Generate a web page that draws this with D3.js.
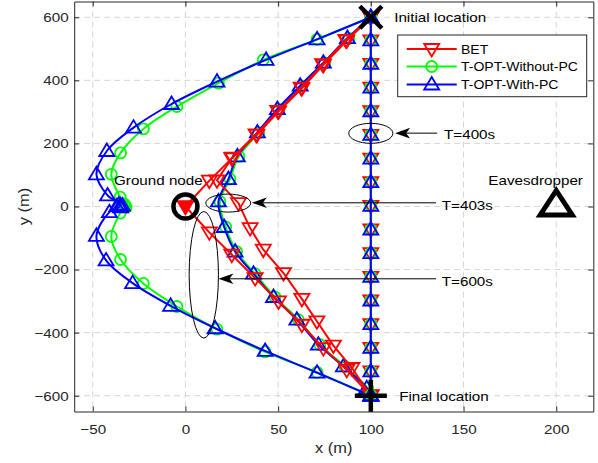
<!DOCTYPE html>
<html><head><meta charset="utf-8">
<script src="https://cdn.jsdelivr.net/npm/d3@7/dist/d3.min.js"></script>
<style>
body{margin:0;background:#fff;}
svg{display:block;font-family:"Liberation Sans",Arial,Helvetica,sans-serif;}
</style>
</head><body>
<svg id="chart" width="598" height="463"></svg>
<script>
// ---------- data ----------
const xTicks = [-50, 0, 50, 100, 150, 200];
const yTicks = [-600, -400, -200, 0, 200, 400, 600];
const seriesNames = ["BET", "T-OPT-Without-PC", "T-OPT-With-PC"];

const groundNode = [0, 0];
const eavesdropper = [200, 0];
const initialLoc = [100, 600];
const finalLoc = [100, -600];

// T = 400 s : straight line (all three schemes coincide)
const t400Y = [600, 527, 452, 377, 302, 227, 152, 77, 2, -73, -148, -223, -298, -373, -448, -523, -598];

// T = 403 s
const betT403 = [[100,600],[87,526],[74.4,449],[62.8,375],[50.2,301],[38.5,227],[25,153],[17,83],
  [28.6,10.8],[34.9,-68.5],[42,-137],[52.9,-211],[62.8,-293],[70.9,-364],[79.8,-441],[89.8,-512],[100,-600]];
const noPcT403 = [[100,600],[88.2,533],[75.2,455],[62.7,382],[50.4,308],[39.6,234],[28.8,159],[24,87],[18.6,16],
  [21.7,-65],[27.6,-143],[37.5,-213],[48.3,-287],[60.9,-359],[72.5,-438],[86,-507],[98.3,-576],[100,-600]];
const withPcT403 = [[100,600],[87.4,534],[74.4,456],[61.9,383],[49.6,309],[38.8,235],[28,159],[23.2,87],[17.8,16],
  [20.9,-65],[26.8,-143],[36.7,-213],[47.5,-287],[60.1,-359],[71.7,-438],[85.2,-507],[97.8,-576],[100,-600]];

// T = 600 s
const betT600 = [[100,600],[86.5,528],[74,451],[62.4,377],[49.8,303],[38.1,229],[25.4,155],[12.9,82],[0,0],
  [12.9,-82],[25,-153],[37.6,-227],[50.2,-301],[62.8,-375],[74.4,-449],[87,-518],[100,-600]];
const noPcT600 = [[100,600],[71,530],[42,465],[17.8,391],[-4.6,317],[-22.7,246],[-35,170],[-40,102],[-35.2,30],
  [-32.5,3],[-35.2,-21],[-40,-95],[-35,-168],[-22.7,-244],[-4.6,-317],[17,-389],[43,-461],[71,-526],[100,-600]];
const withPcT600 = [[100,600],[71,530],[43.5,465],[17,396],[-7.5,325],[-28,250],[-42.4,176],[-48,102],[-42,35],
  [-35,3],[-41,-18],[-48,-93],[-42.8,-171],[-28.5,-243],[-8,-315],[16,-386],[43,-458],[71,-527],[100,-600]];

// hovering points (many coincident markers)
const betHover = [[0,0]];
const noPcHover = [[-33,8],[-32,-2],[-34,4]];
const withPcHover = [[-36,6],[-35,-3],[-37,1],[-34,3]];

// annotation labels
const ann = [
  {label:"T=400s", ell:[100,232,11.9,31.7], arrow:[113.1,135.8,232.6], text:[139.5,213.6]},
  {label:"T=403s", ell:[23.1,10.8,12.1,28.5], arrow:[35.8,135.2,11.7], text:[138.3,-10.5]},
  {label:"T=600s", ell:[9.9,-216.5,7.9,200.6], arrow:[17.8,135.2,-229.2], text:[138.3,-251.3]}
];

// ---------- setup ----------
const W = 598, H = 463;
const x = d3.scaleLinear().domain([-60, 220]).range([74.2, 593.3]);
const y = d3.scaleLinear().domain([-650, 650]).range([411.5, 1.5]);
const SX = 1.17;
const colors = {BET:"#ff0000", NOPC:"#00ff00", PC:"#0000ff"};
const svg = d3.select("#chart");
svg.append("rect").attr("width", W).attr("height", H).attr("fill", "#fff");

function txt(g, str, px, py, size, anchor, fill) {
  return g.append("text")
    .attr("transform", `translate(${px},${py}) scale(${SX},1)`)
    .attr("font-size", size).attr("text-anchor", anchor || "start")
    .attr("fill", fill || "#000").text(str);
}

// grid
const grid = svg.append("g");
grid.selectAll(".gx").data(xTicks).join("line")
  .attr("x1", d => x(d)).attr("x2", d => x(d)).attr("y1", y(650)).attr("y2", y(-650))
  .attr("stroke", "#d6d6d6").attr("stroke-width", 1).attr("stroke-dasharray", "6,4");
grid.selectAll(".gy").data(yTicks).join("line")
  .attr("y1", d => y(d)).attr("y2", d => y(d)).attr("x1", x(-60)).attr("x2", x(220))
  .attr("stroke", "#d6d6d6").attr("stroke-width", 1).attr("stroke-dasharray", "6,4");

// axes
const axCol = "#262626";
function styleAxis(g) {
  g.select(".domain").attr("stroke", axCol);
  g.selectAll(".tick line").attr("stroke", axCol);
  g.selectAll("text").attr("fill", axCol).attr("font-size", 13)
    .attr("font-family", '"Liberation Sans",Arial,sans-serif');
}
const gB = svg.append("g").attr("transform", `translate(0,${y(-650)})`)
  .call(d3.axisBottom(x).tickValues(xTicks).tickSizeInner(-5).tickSizeOuter(0).tickPadding(13.5));
styleAxis(gB);
gB.selectAll("text").attr("transform", `scale(${SX},1)`);
const gL = svg.append("g").attr("transform", `translate(${x(-60)},0)`)
  .call(d3.axisLeft(y).tickValues(yTicks).tickSizeInner(-5).tickSizeOuter(0).tickPadding(5));
styleAxis(gL);
gL.selectAll("text").attr("transform", `scale(${SX},1)`).attr("x", -5.5 / SX).attr("dy", "0.34em");
const gT = svg.append("g").attr("transform", `translate(0,${y(650)})`)
  .call(d3.axisTop(x).tickValues(xTicks).tickSizeInner(-5).tickSizeOuter(0).tickFormat(""));
styleAxis(gT);
const gR = svg.append("g").attr("transform", `translate(${x(220)},0)`)
  .call(d3.axisRight(y).tickValues(yTicks).tickSizeInner(-5).tickSizeOuter(0).tickFormat(""));
styleAxis(gR);

txt(svg, "x (m)", (x(-60) + x(220)) / 2, 453, 14, "middle", axCol);
svg.append("text").attr("transform", `translate(29,${(y(-650)+y(650))/2}) rotate(-90) scale(${SX},1)`)
  .attr("text-anchor", "middle").attr("font-size", 14).attr("fill", axCol).text("y (m)");

// ---------- marks ----------
const plot = svg.append("g");
const markerPath = {
  down: "M-7.5,-5L7.5,-5L0,7.5Z",
  up: "M0,-7.5L-7.5,5L7.5,5Z"
};
function drawMarkers(g, pts, type, color, filled) {
  if (type === "circle") {
    g.selectAll(null).data(pts).join("circle")
      .attr("cx", d => x(d[0])).attr("cy", d => y(d[1])).attr("r", 5.5)
      .attr("fill", filled ? color : "none").attr("stroke", color).attr("stroke-width", 1.8);
  } else {
    g.selectAll(null).data(pts).join("path")
      .attr("transform", d => `translate(${x(d[0])},${y(d[1])})`)
      .attr("d", markerPath[type])
      .attr("fill", filled ? color : "none").attr("stroke", color).attr("stroke-width", 1.8)
      .attr("stroke-linejoin", "miter");
  }
}
function drawTraj(pts, type, color, smooth, hover, hoverFilled) {
  const g = plot.append("g");
  const line = d3.line().x(d => x(d[0])).y(d => y(d[1]))
    .curve(smooth ? d3.curveCatmullRom.alpha(0.5) : d3.curveLinear);
  g.append("path").attr("d", line(pts)).attr("fill", "none")
    .attr("stroke", color).attr("stroke-width", 2).attr("stroke-linejoin", "round");
  drawMarkers(g, pts, type, color, false);
  if (hover) drawMarkers(g, hover, type, color, hoverFilled);
}
const t400 = t400Y.map(v => [initialLoc[0], v]);

drawTraj(noPcT403, "circle", colors.NOPC, true);
drawTraj(withPcT403, "up", colors.PC, true);
drawTraj(betT403, "down", colors.BET, false);
drawTraj(betT600, "down", colors.BET, false, betHover, true);
drawTraj(noPcT600, "circle", colors.NOPC, true, noPcHover, false);
drawTraj(withPcT600, "up", colors.PC, true, withPcHover, false);
drawTraj(t400, "down", colors.BET, false);
drawTraj(t400, "circle", colors.NOPC, false);
drawTraj(t400, "up", colors.PC, false);

// special locations
const sp = svg.append("g");
sp.append("circle").attr("cx", x(groundNode[0])).attr("cy", y(groundNode[1])).attr("r", 12)
  .attr("fill", "none").attr("stroke", "#000").attr("stroke-width", 4.5);
sp.append("path").attr("transform", `translate(${x(eavesdropper[0])},${y(eavesdropper[1])})`)
  .attr("d", "M0,-16L-16,8.5L16,8.5Z").attr("fill", "none").attr("stroke", "#000")
  .attr("stroke-width", 5).attr("stroke-linejoin", "miter");
sp.append("path").attr("transform", `translate(${x(initialLoc[0])},${y(initialLoc[1])})`)
  .attr("d", "M-11,-11L11,11M-11,11L11,-11").attr("stroke", "#000").attr("stroke-width", 4.5);
sp.append("path").attr("transform", `translate(${x(finalLoc[0])},${y(finalLoc[1])})`)
  .attr("d", "M-16,0L16,0M0,-16L0,16").attr("stroke", "#000").attr("stroke-width", 4.5);

txt(sp, "Initial location", x(112.6), y(585.4), 13, "start");
txt(sp, "Final location", x(115.3), y(-616.8), 13, "start");
txt(sp, "Ground node", x(-38.5), y(68.8), 13, "start");
txt(sp, "Eavesdropper", x(163.4), y(68.8), 13, "start");

// annotations
const an = svg.append("g");
ann.forEach(a => {
  const [cx, cy, rx, ry] = a.ell;
  an.append("ellipse").attr("cx", x(cx)).attr("cy", y(cy))
    .attr("rx", x(cx + rx) - x(cx)).attr("ry", y(cy) - y(cy + ry))
    .attr("fill", "none").attr("stroke", "#000").attr("stroke-width", 1);
  const [tip, end, ay] = a.arrow;
  const tx = x(tip), ex = x(end), yy = y(ay);
  an.append("line").attr("x1", tx + 10).attr("x2", ex).attr("y1", yy).attr("y2", yy)
    .attr("stroke", "#000").attr("stroke-width", 1);
  an.append("path").attr("d", `M${tx},${yy}L${tx+15},${yy-5.3}L${tx+11},${yy}L${tx+15},${yy+5.3}Z`)
    .attr("fill", "#000");
  txt(an, a.label, x(a.text[0]), y(a.text[1]), 13, "start");
});

// legend
const lg = svg.append("g");
lg.append("rect").attr("x", 397.7).attr("y", 35).attr("width", 189).attr("height", 61.7)
  .attr("fill", "#fff").attr("stroke", axCol).attr("stroke-width", 1);
const legTypes = [["down", colors.BET], ["circle", colors.NOPC], ["up", colors.PC]];
const legY = [49, 66.5, 84.5];
seriesNames.forEach((name, i) => {
  const [type, col] = legTypes[i];
  const yy = legY[i];
  lg.append("line").attr("x1", 406.7).attr("x2", 456.7).attr("y1", yy).attr("y2", yy)
    .attr("stroke", col).attr("stroke-width", 2);
  if (type === "circle") {
    lg.append("circle").attr("cx", 431.7).attr("cy", yy).attr("r", 5.5)
      .attr("fill", "none").attr("stroke", col).attr("stroke-width", 1.8);
  } else {
    lg.append("path").attr("transform", `translate(431.7,${yy})`).attr("d", markerPath[type])
      .attr("fill", "none").attr("stroke", col).attr("stroke-width", 1.8);
  }
  txt(lg, name, 461, yy + 4.8, 12, "start");
});
</script>
</body></html>
